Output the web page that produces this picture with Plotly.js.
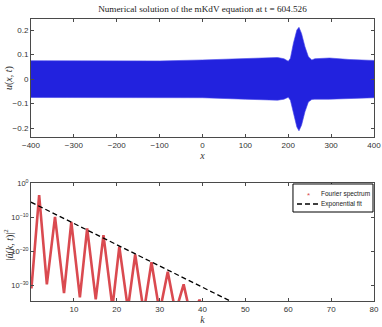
<!DOCTYPE html>
<html><head><meta charset="utf-8">
<script src="https://cdn.plot.ly/plotly-3.0.1.min.js"></script>
<style>html,body{margin:0;padding:0;background:#fff}#g{width:382px;height:327px}</style>
</head><body><div id="g"></div>
<script>
// Top panel: envelope of u(x,t)
const envX     = [-400, -300, -200, -100, 0, 100, 150, 175, 190, 200, 205, 212, 220, 225, 231, 239, 247, 255, 262, 296, 342, 400];
const envUpper = [0.075, 0.075, 0.074, 0.074, 0.078, 0.083, 0.087, 0.088, 0.083, 0.073, 0.085, 0.146, 0.200, 0.211, 0.186, 0.132, 0.091, 0.078, 0.083, 0.086, 0.080, 0.076];
const envLower = [-0.075, -0.075, -0.075, -0.075, -0.076, -0.082, -0.086, -0.086, -0.082, -0.074, -0.086, -0.140, -0.195, -0.211, -0.188, -0.133, -0.093, -0.083, -0.082, -0.082, -0.079, -0.076];
// Bottom panel: Fourier spectrum |u^(k,t)|^2 (peaks and troughs)
const specK = [0.1, 1.9, 3.7, 5.6, 7.7, 9.4, 11.4, 13.1, 15.1, 16.9, 19.0, 20.6, 22.6, 24.3, 26.3, 28.1, 30.0, 31.9, 33.7, 35.6, 37.4, 39.3, 41.0];
const specY = [1e-31, 3e-4, 1.5e-30, 1.2e-10, 4e-33, 4e-12, 2.5e-34, 5e-14, 6e-35, 5e-16, 3e-37, 2e-19, 1e-37, 1e-21, 1e-38, 5e-24, 1e-38, 8e-27, 1e-38, 1.6e-30, 1e-40, 5e-35, 1e-40];
// Exponential fit (straight dashed line on the log axis)
const fitK = [0, 80];
const fitY = [2.5e-6, 2e-56];
const legendNames = ['Fourier spectrum', 'Exponential fit'];
const xTicksTop = [-400, -300, -200, -100, 0, 100, 200, 300, 400];
const yTicksTop = [-0.2, -0.1, 0, 0.1, 0.2];
const yTicksBotVals = [1, 1e-10, 1e-20, 1e-30];
const yTicksBotText = ['10<sup>0</sup>', '10<sup>−10</sup>', '10<sup>−20</sup>', '10<sup>−30</sup>'];
const xTicksBot = [10, 20, 30, 40, 50, 60, 70, 80];

const blue = 'rgb(34,34,222)';
const red = 'rgb(218,74,80)';
const axisCol = '#4a4a4a';
const sans = 'Liberation Sans, Arial, sans-serif';
const tickFont = {family: sans, size: 8, color: '#333'};
const serif = 'Liberation Serif, DejaVu Serif, serif';

const traces = [
  {x: envX, y: envUpper, type: 'scatter', mode: 'lines', line: {width: 0.6, color: 'rgb(70,70,235)'}, xaxis: 'x', yaxis: 'y', showlegend: false, hoverinfo: 'skip'},
  {x: envX, y: envLower, type: 'scatter', mode: 'lines', fill: 'tonexty', fillcolor: blue, line: {width: 0.6, color: 'rgb(70,70,235)'}, xaxis: 'x', yaxis: 'y', showlegend: false, hoverinfo: 'skip'},
  {x: specK, y: specY, type: 'scatter', mode: 'lines', name: legendNames[0], line: {width: 2.6, color: red}, xaxis: 'x2', yaxis: 'y2', showlegend: false},
  {x: fitK, y: fitY, type: 'scatter', mode: 'lines', name: legendNames[1], line: {width: 1.3, color: '#000', dash: '5px,3px'}, xaxis: 'x2', yaxis: 'y2', showlegend: false}
];

const axBase = {showline: true, mirror: 'ticks', ticks: 'inside', ticklen: 3, tickcolor: axisCol, linecolor: axisCol, linewidth: 1, showgrid: false, zeroline: false, tickfont: tickFont};
const titleFont = {family: serif, size: 10, color: '#333'};
const legFont = {family: sans, size: 6.5, color: '#222'};

const layout = {
  width: 382, height: 327,
  margin: {l: 31, r: 8, t: 19, b: 26},
  paper_bgcolor: '#fff', plot_bgcolor: '#fff',
  title: {text: 'Numerical solution of the mKdV equation at t = 604.526', font: {family: serif, size: 9.2, color: '#222'}, x: 0.53, xanchor: 'center', y: 0.972, yanchor: 'middle'},
  xaxis: Object.assign({}, axBase, {domain: [0, 1], anchor: 'y', range: [-400, 400], tickvals: xTicksTop, ticktext: xTicksTop.map(v => v < 0 ? '−' + Math.abs(v) : String(v)),
    title: {text: '<i>x</i>', font: titleFont, standoff: 0}}),
  yaxis: Object.assign({}, axBase, {domain: [0.5816, 1], anchor: 'x', range: [-0.236, 0.245], tickvals: yTicksTop, ticktext: yTicksTop.map(v => v < 0 ? '−' + Math.abs(v) : String(v))}),
  xaxis2: Object.assign({}, axBase, {domain: [0, 1], anchor: 'y2', range: [0, 80], tickvals: xTicksBot,
    title: {text: '<i>k</i>', font: titleFont, standoff: 0}}),
  yaxis2: Object.assign({}, axBase, {domain: [0, 0.418], anchor: 'x2', type: 'log', range: [-34.7, 0], tickvals: yTicksBotVals, ticktext: yTicksBotText,
    tickfont: {family: sans, size: 7.5, color: '#333'}}),
  shapes: [
    // legend box and samples
    {type: 'rect', xref: 'paper', yref: 'paper', x0: 0.7638, x1: 0.9971, y0: 0.3156, y1: 0.4149, line: {color: '#000', width: 1}, fillcolor: '#fff', layer: 'above'},
    {type: 'line', xref: 'paper', yref: 'paper', x0: 0.7755, x1: 0.8367, y0: 0.344, y1: 0.344, line: {color: '#000', width: 1.3, dash: '5px,3px'}, layer: 'above'}
  ],
  annotations: [
    {text: '<i>u</i>(<i>x</i>, <i>t</i>)', xref: 'paper', yref: 'paper', x: 0, y: 0.7908, xshift: -22, textangle: -90, showarrow: false, font: titleFont, xanchor: 'center', yanchor: 'middle'},
    {text: '|<i>û</i>(<i>k</i>, <i>t</i>)|<sup>2</sup>', xref: 'paper', yref: 'paper', x: 0, y: 0.20, xshift: -22, textangle: -90, showarrow: false, font: titleFont, xanchor: 'center', yanchor: 'middle'},
    {text: '*', xref: 'paper', yref: 'paper', x: 0.8076, y: 0.3794, yshift: -1.5, showarrow: false, font: {family: sans, size: 8, color: red}, xanchor: 'center', yanchor: 'middle'},
    {text: legendNames[0], xref: 'paper', yref: 'paper', x: 0.8397, y: 0.3794, showarrow: false, font: legFont, xanchor: 'left', yanchor: 'middle'},
    {text: legendNames[1], xref: 'paper', yref: 'paper', x: 0.8397, y: 0.344, showarrow: false, font: legFont, xanchor: 'left', yanchor: 'middle'}
  ],
  showlegend: false
};

Plotly.newPlot('g', traces, layout, {staticPlot: true, displayModeBar: false});
</script>
</body></html>
